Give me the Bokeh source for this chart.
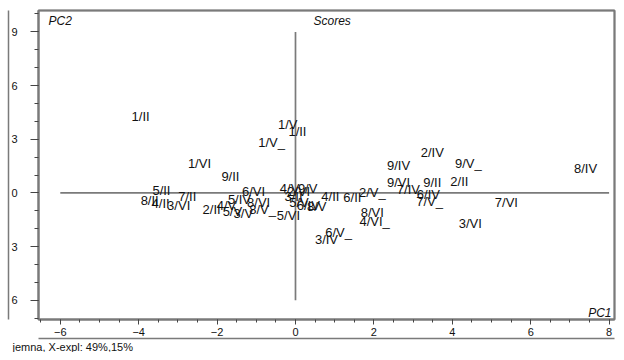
from bokeh.plotting import figure
from bokeh.models import (Range1d, SingleIntervalTicker, FixedTicker, LinearAxis,
                          Label, ColumnDataSource, Title)
from bokeh.core.properties import value
from bokeh.embed import file_html
from bokeh.resources import INLINE

# ---------------- data ----------------
sample_labels = [
    "1/II", "1/V", "1/II", "1/V_", "1/VI", "9/II", "5/II", "7/II", "8/II", "4/II",
    "3/VI", "2/II", "4/V", "6/VI", "5/IV", "8/VI", "5/V", "3/V", "8/V_", "5/VI",
    "4/V", "9/V", "3/II", "2/VI", "5/V_", "6/IV", "8/V", "4/II", "6/II", "2/V_",
    "8/VI", "4/VI_", "6/V_", "3/IV", "9/VI", "7/IV", "9/II", "6/IV", "7/V_", "2/IV",
    "9/IV", "9/V_", "2/II", "8/IV", "7/VI", "3/VI",
]
pc1_scores = [
    -3.95, -0.20, 0.05, -0.61, -2.45, -1.66, -3.42, -2.76, -3.72, -3.44,
    -2.98, -2.14, -1.76, -1.07, -1.43, -0.94, -1.61, -1.33, -0.84, -0.18,
    -0.15, 0.31, -0.05, 0.08, 0.18, 0.33, 0.54, 0.89, 1.45, 1.96,
    1.96, 2.02, 1.10, 0.79, 2.63, 2.88, 3.49, 3.39, 3.42, 3.49,
    2.63, 4.41, 4.18, 7.40, 5.38, 4.46,
]
pc2_scores = [
    4.29, 3.84, 3.45, 2.79, 1.62, 0.89, 0.11, -0.22, -0.45, -0.61,
    -0.72, -0.95, -0.72, 0.06, -0.39, -0.56, -1.06, -1.17, -0.95, -1.28,
    0.22, 0.22, -0.22, 0.06, -0.56, -0.72, -0.78, -0.22, -0.28, 0.00,
    -1.11, -1.62, -2.23, -2.62, 0.56, 0.17, 0.56, -0.11, -0.50, 2.28,
    1.56, 1.67, 0.61, 1.34, -0.56, -1.73,
]

y_tick_values = [-6, -3, 0, 3, 6, 9]
y_tick_text = ["6", "3", "0", "3", "6", "9"]
origin_x_extent = [-6, 8]
origin_y_extent = [-6, 9]
zero_pair = [0, 0]

title_text = "Scores"
x_name = "PC1"
y_name = "PC2"
footer_text = "jemna, X-expl: 49%,15%"

# ---------------- figure ----------------
W, H = 616, 352
FONT = "Liberation Sans"
GRAY = "#7a7a7a"
TXT = "#111111"
TICK = "#444444"

p = figure(width=W, height=H, output_backend="svg", toolbar_location=None,
           x_range=Range1d(-6.556, 8.138), y_range=Range1d(-7.075, 10.195),
           x_axis_type=None, y_axis_type=None,
           min_border_left=38, min_border_right=2, min_border_top=10,
           min_border_bottom=32)
p.grid.visible = False
p.outline_line_color = GRAY
p.outline_line_width = 2
p.background_fill_color = "white"
p.border_fill_color = "white"


def line_only_axis():
    ax = LinearAxis(ticker=FixedTicker(ticks=[]))
    ax.axis_line_color = GRAY
    ax.axis_line_width = 1.5
    ax.major_tick_out = 0
    ax.major_tick_in = 0
    ax.minor_tick_out = 0
    ax.minor_tick_in = 0
    ax.major_label_standoff = 0
    return ax


# left axis
yax = LinearAxis(ticker=SingleIntervalTicker(interval=3, num_minor_ticks=3))
yax.major_label_overrides = dict(zip(y_tick_values, y_tick_text))
yax.axis_line_color = GRAY
yax.axis_line_width = 2
yax.major_tick_line_color = TICK
yax.minor_tick_line_color = TICK
yax.major_tick_out = 8
yax.major_tick_in = 0
yax.minor_tick_out = 4
yax.minor_tick_in = 0
yax.major_label_standoff = 13
yax.major_label_text_font = FONT
yax.major_label_text_font_size = "11px"
yax.major_label_text_color = TXT
p.add_layout(yax, "left")
p.add_layout(line_only_axis(), "left")   # outer left border

# bottom axis
xax = LinearAxis(ticker=SingleIntervalTicker(interval=2, num_minor_ticks=4))
xax.axis_line_color = GRAY
xax.axis_line_width = 2
xax.major_tick_line_color = TICK
xax.minor_tick_line_color = TICK
xax.major_tick_out = 5
xax.major_tick_in = 0
xax.minor_tick_out = 3
xax.minor_tick_in = 0
xax.major_label_standoff = 3
xax.major_label_text_font = FONT
xax.major_label_text_font_size = "11px"
xax.major_label_text_color = TXT
p.add_layout(xax, "below")
p.add_layout(line_only_axis(), "below")  # line above footer

# top / right border lines
p.add_layout(line_only_axis(), "above")
p.add_layout(line_only_axis(), "right")

# footer
p.add_layout(Title(text=footer_text, align="left", offset=-26, standoff=0,
                   text_font=FONT, text_font_size="11px", text_font_style="normal",
                   text_color=TXT), "below")

# origin axes
p.line(origin_x_extent, zero_pair, line_color=GRAY, line_width=1.7)
p.line(zero_pair, origin_y_extent, line_color=GRAY, line_width=1.7)

# score labels
src = ColumnDataSource(dict(x=pc1_scores, y=pc2_scores, label=sample_labels))
p.text(x="x", y="y", text="label", source=src,
       text_font=value(FONT), text_font_size="13px",
       text_align="center", text_baseline="middle", text_color=TXT)


# captions
def cap(text, x, y, align="left"):
    p.add_layout(Label(x=x, y=y, x_units="screen", y_units="screen", text=text,
                       text_font=FONT, text_font_size="12px",
                       text_font_style="italic",
                       text_align=align, text_baseline="middle", text_color=TXT))


cap(y_name, 10, 299)
cap(title_text, 275, 299)
cap(x_name, 573, 7, align="right")

open("out.html", "w").write(file_html(p, INLINE))
